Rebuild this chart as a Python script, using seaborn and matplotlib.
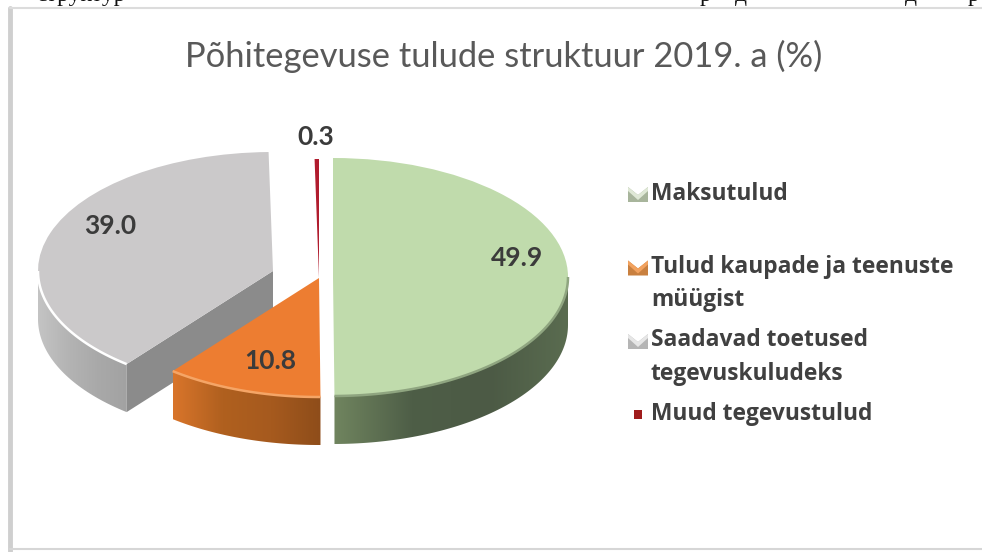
import numpy as np
import matplotlib
matplotlib.use("Agg")
import matplotlib.pyplot as plt
from matplotlib.patches import Polygon
from matplotlib.transforms import Affine2D
import seaborn as sns

title = "Põhitegevuse tulude struktuur 2019. a (%)"
categories = ["Maksutulud", "Tulud kaupade ja teenuste\nmüügist",
              "Saadavad toetused\ntegevuskuludeks", "Muud tegevustulud"]
values = [49.9, 10.8, 39.0, 0.3]

sns.set_theme(style="white")
plt.rcParams["font.family"] = ["Lato", "DejaVu Sans"]

# pie geometry in image pixels (y goes down)
RX, RY, DEPTH = 235, 119, 48
apex = [(333, 277), (319, 278), (273, 271), (319, 278)]
top_colors = ["#c0dbac", "#ed7d31", "#cbc9ca", "#b01c2e"]
side_colors = [["#70855f", "#4e5e47", "#4c5a45", "#5a6c50"],
               ["#d9752b", "#b0601f", "#a65a1e", "#8e4d1a"],
               ["#c4c4c4", "#b4b4b4", "#a9a9a9", "#a2a2a2"],
               ["#b01c2e", "#b01c2e"]]
rim_colors = ["#8fa580", "#f5a566", "#ffffff", "#b01c2e"]
draw_order = [2, 3, 1, 0]  # grey is behind the orange one

fig, ax = plt.subplots(figsize=(9.82, 5.52), dpi=100)
fig.subplots_adjust(0, 0, 1, 1)

wedges, _ = ax.pie(values, startangle=90, counterclock=False, colors=top_colors)

# slice angles clockwise from 12 o'clock
ends = np.cumsum(values) / np.sum(values) * 2 * np.pi
starts = np.r_[0, ends[:-1]]


def arc(i, t1, t2):
    t = np.linspace(t1, t2, 80)
    return apex[i][0] + RX * np.sin(t), apex[i][1] - RY * np.cos(t)


for n, i in enumerate(draw_order):
    cx, cy = apex[i]
    z = 2 + n * 3
    t1 = max(starts[i], np.pi / 2)
    t2 = min(ends[i], 3 * np.pi / 2)
    if t2 > t1:
        # visible outer wall of the slice
        x, y = arc(i, t1, t2)
        pts = np.r_[np.c_[x, y], np.c_[x, y + DEPTH][::-1]]
        poly = Polygon(pts, closed=True, fc="none", ec="none")
        ax.add_patch(poly)
        cmap = sns.blend_palette(side_colors[i], as_cmap=True)
        grad = np.linspace(0, 1, 256).reshape(1, -1)
        im = ax.imshow(grad, cmap=cmap, aspect="auto", zorder=z,
                       extent=(x.min(), x.max(), y.max() + DEPTH, y.min()))
        im.set_clip_path(poly)
    if i == 2:
        # cut face of the grey slice
        fx, fy = arc(i, starts[i], starts[i])
        face = [(fx[0], fy[0]), (cx, cy), (cx, cy + DEPTH), (fx[0], fy[0] + DEPTH)]
        ax.add_patch(Polygon(face, closed=True, fc="#8b8b8b", ec="none", zorder=z))
    w = wedges[i]
    w.set_transform(Affine2D().scale(RX, -RY).translate(cx, cy) + ax.transData)
    w.set_zorder(z + 1)
    w.set_linewidth(0)
    if t2 > t1:
        x, y = arc(i, t1, t2)
        ax.plot(x, y, color=rim_colors[i], lw=1.8, zorder=z + 2, solid_capstyle="butt")

# frame of the pasted picture
ax.plot([10, 10], [8, 552], color="#cfcfcf", lw=3.5, zorder=1)
ax.plot([10, 982], [8, 8], color="#dcdcdc", lw=1.5, zorder=1)
ax.plot([10, 982], [549, 549], color="#d6d6d6", lw=1.5, zorder=1)

ax.text(504, 56, title, fontsize=24.8, color="#595959", ha="center", va="center")

label_pos = [(517, 258), (270, 361), (110, 226), (316, 137)]
for v, (x, y) in zip(values, label_pos):
    ax.text(x, y, f"{v:.1f}", fontsize=19, fontweight="bold", color="#3b3b3b",
            ha="center", va="center", zorder=30)

# legend, spacing is uneven in the original
legend_y = [194, 283.5, 357, 414]
key_colors = [("#a8b59c", "#dfe8d6"), ("#c9803f", "#f2a25f"), ("#b5b5b5", "#e6e6e6")]
for i, (name, y) in enumerate(zip(categories, legend_y)):
    ax.text(651, y, name, fontsize=16.4, fontweight="bold", color="#404040",
            family=["Open Sans"], va="center", ha="left", linespacing=1.5)
    ky = y if "\n" not in name else y - 16
    if i < 3:
        ax.add_patch(Polygon([(628, ky - 7), (638, ky + 1), (648, ky - 7), (648, ky + 8), (628, ky + 8)],
                             fc=key_colors[i][0], ec="none"))
        ax.add_patch(Polygon([(628, ky - 7), (638, ky + 1), (648, ky - 7), (648, ky - 3), (638, ky + 6), (628, ky - 3)],
                             fc=key_colors[i][1], ec="none"))
    else:
        ax.add_patch(Polygon([(634, ky - 4), (642, ky - 4), (642, ky + 5), (634, ky + 5)],
                             fc="#a01c1c", ec="none"))

# bottom edge of the document line cut off above the chart
for txt, x in [("структур", 36), ("р", 700), ("д", 735), ("д", 905), ("р", 968)]:
    ax.text(x, 0.5, txt, fontsize=17, family=["Liberation Serif"], color="#111111",
            va="baseline", ha="left", clip_on=True)

ax.set_aspect("auto")
ax.set_xlim(0, 982)
ax.set_ylim(552, 0)
ax.axis("off")
fig.savefig("out.png", dpi=100, facecolor="white")
